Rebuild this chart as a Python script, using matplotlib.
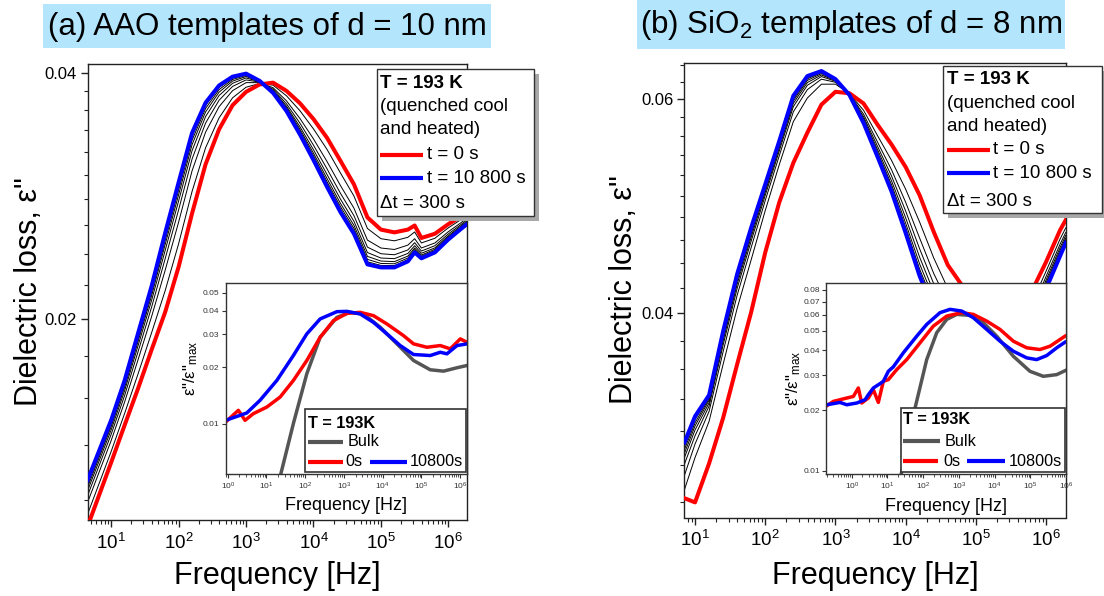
import matplotlib
matplotlib.use('Agg')
import numpy as np
import matplotlib.pyplot as plt
from matplotlib.patches import Rectangle
from matplotlib.lines import Line2D
from matplotlib.ticker import NullFormatter, LogLocator, NullLocator

plt.rcParams['font.family'] = ['Liberation Sans', 'DejaVu Sans']
plt.rcParams['mathtext.fontset'] = 'custom'
plt.rcParams['mathtext.rm'] = 'Liberation Sans'
plt.rcParams['mathtext.it'] = 'Liberation Sans:italic'
plt.rcParams['mathtext.bf'] = 'Liberation Sans:bold'
plt.rcParams['mathtext.default'] = 'regular'

# ---------------- data: panel (a) AAO ----------------
freq_a = [4.47, 10, 15.8, 25.1, 39.8, 63.1, 100, 158, 251, 398, 631, 1000, 1585, 2512,
          3981, 6310, 10000, 15849, 25119, 39811, 63096, 100000, 158490, 251190, 316230,
          398110, 630960, 1000000, 1584900, 1890000]
eps_a_0s = [0.01113, 0.01333, 0.01480, 0.01643, 0.01832, 0.02036, 0.02314, 0.02689, 0.0309,
            0.0341, 0.0365, 0.0379, 0.0387, 0.0389, 0.0380, 0.0367, 0.0351, 0.0333, 0.0312,
            0.0292, 0.0266, 0.0257, 0.0255, 0.0257, 0.0260, 0.0251, 0.0254, 0.0261, 0.0267, 0.0270]
eps_a_10800s = [0.01268, 0.01502, 0.01679, 0.01920, 0.02192, 0.02545, 0.02936, 0.03375, 0.03676,
                0.03859, 0.03956, 0.0399, 0.0391, 0.0378, 0.0359, 0.0336, 0.03127, 0.0290, 0.0270,
                0.0254, 0.0233, 0.0231, 0.0231, 0.0235, 0.0241, 0.0237, 0.0241, 0.0250, 0.0258, 0.0261]
eps_a_aging = [
    [0.01152, 0.01375, 0.01530, 0.01712, 0.01922, 0.02163, 0.02470, 0.02861, 0.03237, 0.03522,
     0.03727, 0.0384, 0.0388, 0.03863, 0.03748, 0.03593, 0.03414, 0.03223, 0.03015, 0.02825,
     0.02578, 0.02505, 0.0249, 0.02515, 0.02553, 0.02475, 0.02508, 0.02583, 0.02648, 0.02678],
    [0.01191, 0.01418, 0.01580, 0.01782, 0.02012, 0.02291, 0.02625, 0.03032, 0.03383, 0.03635,
     0.03803, 0.0389, 0.0389, 0.03835, 0.03695, 0.03515, 0.03319, 0.03115, 0.0291, 0.0273,
     0.02495, 0.0244, 0.0243, 0.0246, 0.02505, 0.0244, 0.02475, 0.02555, 0.02625, 0.02655],
    [0.01214, 0.01443, 0.01609, 0.01823, 0.02066, 0.02367, 0.02718, 0.03135, 0.03471, 0.03702,
     0.03849, 0.0392, 0.03896, 0.03819, 0.03664, 0.03469, 0.03261, 0.03051, 0.02847, 0.02673,
     0.02446, 0.02401, 0.02394, 0.02427, 0.02477, 0.02419, 0.02456, 0.02539, 0.02612, 0.02642],
    [0.01231, 0.01461, 0.01631, 0.01854, 0.02106, 0.02423, 0.02787, 0.03210, 0.03535, 0.03751,
     0.03883, 0.03942, 0.039, 0.03806, 0.0364, 0.03434, 0.03219, 0.03003, 0.02801, 0.02631,
     0.02409, 0.02372, 0.02368, 0.02403, 0.02456, 0.02404, 0.02441, 0.02526, 0.02602, 0.02632],
    [0.01243, 0.01475, 0.01647, 0.01876, 0.02134, 0.02464, 0.02836, 0.03265, 0.03582, 0.03787,
     0.03907, 0.03958, 0.03904, 0.03798, 0.03624, 0.0341, 0.03188, 0.02969, 0.02767, 0.02601,
     0.02383, 0.02352, 0.02348, 0.02385, 0.0244, 0.02392, 0.02431, 0.02518, 0.02594, 0.02624],
    [0.01253, 0.01485, 0.01659, 0.01892, 0.02156, 0.02494, 0.02874, 0.03306, 0.03617, 0.03814,
     0.03925, 0.0397, 0.03906, 0.03791, 0.03611, 0.03391, 0.03165, 0.02943, 0.02742, 0.02578,
     0.02363, 0.02336, 0.02334, 0.02372, 0.02429, 0.02384, 0.02423, 0.02511, 0.02589, 0.02619],
    [0.01260, 0.01494, 0.01669, 0.01906, 0.02174, 0.02520, 0.02905, 0.03341, 0.03647, 0.03837,
     0.03941, 0.0398, 0.03908, 0.03786, 0.03601, 0.03376, 0.03146, 0.02922, 0.02721, 0.02559,
     0.02347, 0.02323, 0.02322, 0.02361, 0.0242, 0.02377, 0.02417, 0.02506, 0.02585, 0.02615],
]

# ---------------- data: panel (b) SiO2 ----------------
freq_b = [7.08, 10, 15.85, 25.12, 39.81, 63.1, 100, 158.5, 251.2, 398.1, 631, 1000, 1585, 2512,
          3981, 6310, 10000, 15849, 25119, 39811, 63096, 100000, 158490, 251190, 398110, 630960,
          1000000, 1584900, 1905500]
eps_b_0s = [0.02819, 0.02797, 0.03011, 0.03282, 0.03633, 0.04011, 0.04490, 0.04937, 0.05320,
            0.05633, 0.05940, 0.06086, 0.06069, 0.05953, 0.05718, 0.05507, 0.05278, 0.05002,
            0.04668, 0.04384, 0.04220, 0.04103, 0.04056, 0.04041, 0.04064, 0.04175, 0.04410,
            0.04684, 0.04774]
eps_b_10800s = [0.03134, 0.03292, 0.03427, 0.03867, 0.04310, 0.04707, 0.05108, 0.05545, 0.06040,
                0.06270, 0.06330, 0.06234, 0.06049, 0.05737, 0.05380, 0.05037, 0.04658, 0.04292,
                0.04025, 0.03840, 0.03731, 0.03675, 0.03661, 0.03696, 0.03767, 0.03913, 0.04191,
                0.04460, 0.04572]
eps_b_aging = [
    [0.02866, 0.03045, 0.03261, 0.03633, 0.04039, 0.04429, 0.04861, 0.05302, 0.05752, 0.06015,
     0.06174, 0.06175, 0.06062, 0.05877, 0.05600, 0.05343, 0.05061, 0.04754, 0.04443, 0.04194,
     0.04049, 0.03953, 0.03918, 0.0392, 0.0396, 0.04083, 0.04333, 0.04606, 0.04703],
    [0.02945, 0.03124, 0.03323, 0.03721, 0.04141, 0.04533, 0.04954, 0.05393, 0.0586, 0.06111,
     0.06233, 0.06197, 0.06058, 0.05834, 0.05532, 0.05249, 0.04937, 0.04612, 0.04314, 0.04085,
     0.03951, 0.03868, 0.03839, 0.03851, 0.03901, 0.04031, 0.0429, 0.04561, 0.04663],
    [0.03008, 0.03173, 0.03356, 0.03768, 0.04195, 0.04589, 0.05003, 0.05442, 0.05918, 0.06162,
     0.06264, 0.06209, 0.06055, 0.05806, 0.05488, 0.05187, 0.04856, 0.04519, 0.04231, 0.04014,
     0.03887, 0.03812, 0.03787, 0.03806, 0.03862, 0.03997, 0.04261, 0.04532, 0.04637],
    [0.03046, 0.03208, 0.03377, 0.03797, 0.04229, 0.04623, 0.05034, 0.05472, 0.05954, 0.06194,
     0.06283, 0.06216, 0.06053, 0.05785, 0.05454, 0.05140, 0.04794, 0.04448, 0.04166, 0.03960,
     0.03839, 0.03769, 0.03748, 0.03772, 0.03832, 0.03971, 0.04239, 0.04509, 0.04616],
    [0.03071, 0.03233, 0.03394, 0.03820, 0.04256, 0.04651, 0.05059, 0.05496, 0.05982, 0.06219,
     0.06299, 0.06222, 0.06052, 0.05767, 0.05427, 0.05103, 0.04745, 0.04391, 0.04115, 0.03916,
     0.03799, 0.03735, 0.03716, 0.03744, 0.03809, 0.0395, 0.04222, 0.04491, 0.046],
    [0.03093, 0.03252, 0.03406, 0.03838, 0.04276, 0.04672, 0.05077, 0.05515, 0.06004, 0.06238,
     0.06311, 0.06227, 0.0605, 0.05754, 0.05407, 0.05075, 0.04708, 0.04349, 0.04076, 0.03884,
     0.0377, 0.03709, 0.03693, 0.03724, 0.03791, 0.03934, 0.04209, 0.04478, 0.04588],
    [0.03112, 0.03272, 0.03415, 0.03849, 0.0429, 0.04686, 0.05089, 0.05527, 0.06018, 0.06251,
     0.06318, 0.0623, 0.0605, 0.05746, 0.05394, 0.05056, 0.04683, 0.0432, 0.04051, 0.03862,
     0.03751, 0.03692, 0.03677, 0.0371, 0.03779, 0.03923, 0.042, 0.04469, 0.0458],
]

# ---------------- inset data (a) ----------------
ins_a_bulk_freq = [17.7, 22.5, 49.5, 110, 243, 656, 1440, 3180, 8690, 23300, 62500, 168700,
                   373000, 826000, 1500000]
ins_a_bulk = [0.00416, 0.0052, 0.0100, 0.01845, 0.02888, 0.0369, 0.03924, 0.03847, 0.03265,
              0.02664, 0.02171, 0.01937, 0.01905, 0.01986, 0.02042]
ins_a_0s_freq = [0.89, 1.88, 2.8, 4.6, 10.2, 22.5, 49.5, 110, 243, 536, 1188, 2622, 5785, 12840,
                 34400, 62500, 138700, 306000, 555000, 1007000, 1500000]
ins_a_0s = [0.0102, 0.01177, 0.01041, 0.0113, 0.01225, 0.01385, 0.01699, 0.02171, 0.02888,
            0.03544, 0.03876, 0.03924, 0.03768, 0.03403, 0.02949, 0.02664, 0.02555, 0.02609,
            0.02506, 0.02832, 0.02716]
ins_a_10800s_freq = [0.89, 3.1, 6.8, 18.5, 49.5, 110, 243, 656, 1188, 2622, 5785, 12840, 28330,
                     62500, 168700, 306000, 456000, 826000, 1500000]
ins_a_10800s = [0.01041, 0.01139, 0.0133, 0.01699, 0.02308, 0.03011, 0.03619, 0.03957, 0.03972,
                0.03847, 0.0347, 0.03011, 0.02609, 0.02337, 0.02308, 0.02403, 0.02357, 0.02609,
                0.02664]

# ---------------- inset data (b) ----------------
ins_b_bulk_freq = [19.7, 25.1, 59.3, 126, 240, 458, 873, 2060, 4860, 11530, 33650, 98600,
                   233000, 552000, 1000000]
ins_b_bulk = [0.0080, 0.00989, 0.02056, 0.03592, 0.04891, 0.05703, 0.06042, 0.05973, 0.05491,
              0.04703, 0.03733, 0.03139, 0.02963, 0.03021, 0.03175]
ins_b_0s_freq = [0.2, 0.305, 0.724, 1.11, 1.53, 1.9, 2.92, 4.03, 5.56, 7.68, 10.6, 18.2, 34.7,
                 81.9, 193, 458, 1206, 2547, 6050, 14270, 33650, 79800, 188000, 359000, 944000]
ins_b_0s = [0.02112, 0.0222, 0.02308, 0.02351, 0.02591, 0.02179, 0.02308, 0.02541, 0.02194,
            0.02797, 0.02852, 0.03201, 0.03592, 0.04357, 0.05279, 0.05925, 0.06164, 0.06042,
            0.05593, 0.05082, 0.04439, 0.04113, 0.04033, 0.0419, 0.04703]
ins_b_10800s_freq = [0.2, 0.47, 0.724, 1.38, 2.36, 2.92, 4.03, 6.2, 7.68, 10.6, 14.6, 27.9, 66.2,
                     126, 297, 567, 1206, 2547, 6050, 14270, 33650, 79800, 152000, 290000,
                     552000, 944000]
ins_b_10800s = [0.02136, 0.02194, 0.02136, 0.02179, 0.02263, 0.02398, 0.02591, 0.02723, 0.02797,
                0.03139, 0.03303, 0.03882, 0.04703, 0.05384, 0.06164, 0.06403, 0.06278, 0.05817,
                0.05082, 0.04439, 0.03955, 0.03664, 0.03592, 0.03763, 0.04113, 0.04388]

# tick values
main_a_yticks = [0.02, 0.04]
main_a_yminor = [0.012, 0.014, 0.016, 0.018, 0.022, 0.024, 0.026, 0.028, 0.030, 0.032, 0.034,
                 0.036, 0.038]
main_b_yticks = [0.04, 0.06]
main_b_yminor = [0.028, 0.030, 0.032, 0.034, 0.036, 0.038, 0.042, 0.044, 0.046, 0.048, 0.050,
                 0.052, 0.054, 0.056, 0.058, 0.062, 0.064]
ins_a_yticks = [0.01, 0.02, 0.03, 0.04, 0.05]
ins_b_yticks = [0.01, 0.02, 0.03, 0.04, 0.05, 0.06, 0.07, 0.08]

RED = '#ff0000'
BLUE = '#0000ff'
GRAY = '#555555'
W, H = 1104, 596

fig = plt.figure(figsize=(W / 100, H / 100), dpi=100)


def fbox(x0, y0, x1, y1):
    return [x0 / W, 1 - y1 / H, (x1 - x0) / W, (y1 - y0) / H]


def P(x, y):
    return x / W, 1 - y / H


ax_a = fig.add_axes(fbox(88, 64, 467, 520))
ax_b = fig.add_axes(fbox(684.3, 63, 1065.8, 517.5))
ins_a = fig.add_axes(fbox(225.7, 282.7, 467, 474.3))
ins_b = fig.add_axes(fbox(826, 282.7, 1066, 474))


def style_main(ax, xlim, ylim, major, minor):
    ax.set_xscale('log')
    ax.set_yscale('log')
    ax.set_xlim(*xlim)
    ax.set_ylim(*ylim)
    ax.set_xticks([10.0 ** k for k in range(1, 7)])
    ax.xaxis.set_minor_locator(LogLocator(base=10, subs=np.arange(2, 10) * 1.0, numticks=30))
    ax.xaxis.set_minor_formatter(NullFormatter())
    ax.set_yticks(major, labels=['%.2f' % v for v in major])
    ax.set_yticks(minor, minor=True)
    ax.yaxis.set_minor_formatter(NullFormatter())
    ax.tick_params(which='major', direction='out', length=5, width=1, pad=3,
                   colors='#222222', labelcolor='black')
    ax.tick_params(axis='x', which='major', labelsize=13.5, pad=4)
    ax.tick_params(axis='y', which='major', labelsize=12)
    ax.tick_params(which='minor', direction='out', length=3, width=0.8, colors='#222222')
    ax.tick_params(which='both', top=False, right=False)
    for s in ax.spines.values():
        s.set_linewidth(1.0)
        s.set_color('#222222')


def style_inset(ax, xlim, ylim, yt):
    ax.set_xscale('log')
    ax.set_yscale('log')
    ax.set_xlim(*xlim)
    ax.set_ylim(*ylim)
    ax.set_facecolor('white')
    ax.set_xticks([10.0 ** k for k in range(0, 7)])
    ax.xaxis.set_minor_locator(LogLocator(base=10, subs=np.arange(2, 10) * 1.0, numticks=30))
    ax.xaxis.set_minor_formatter(NullFormatter())
    ax.set_yticks(yt, labels=['%.2f' % v for v in yt])
    ax.yaxis.set_minor_locator(NullLocator())
    ax.tick_params(which='major', direction='out', length=3, width=0.8, labelsize=6, pad=1.5,
                   colors='#333333', labelcolor='#333333')
    ax.tick_params(which='minor', direction='out', length=1.8, width=0.6, colors='#333333')
    ax.tick_params(which='both', top=False, right=False)
    for s in ax.spines.values():
        s.set_linewidth(1.0)
        s.set_color('#333333')


style_main(ax_a, (4.53, 1.89e6), (0.01133, 0.0410), main_a_yticks, main_a_yminor)
style_main(ax_b, (7.03, 1.91e6), (0.02718, 0.06427), main_b_yticks, main_b_yminor)
style_inset(ins_a, (0.887, 1.5e6), (0.00536, 0.0565), ins_a_yticks)
style_inset(ins_b, (0.19, 1.007e6), (0.00963, 0.087), ins_b_yticks)

# main curves
for curve in eps_a_aging:
    ax_a.plot(freq_a, curve, color='black', lw=0.7, zorder=2)
ax_a.plot(freq_a, eps_a_0s, color=RED, lw=2.9, zorder=3)
ax_a.plot(freq_a, eps_a_10800s, color=BLUE, lw=2.9, zorder=4)

for curve in eps_b_aging:
    ax_b.plot(freq_b, curve, color='black', lw=0.7, zorder=2)
ax_b.plot(freq_b, eps_b_0s, color=RED, lw=2.9, zorder=3)
ax_b.plot(freq_b, eps_b_10800s, color=BLUE, lw=2.9, zorder=4)

# insets
ins_a.plot(ins_a_bulk_freq, ins_a_bulk, color=GRAY, lw=2.5)
ins_a.plot(ins_a_0s_freq, ins_a_0s, color=RED, lw=2.5)
ins_a.plot(ins_a_10800s_freq, ins_a_10800s, color=BLUE, lw=2.5)
ins_b.plot(ins_b_bulk_freq, ins_b_bulk, color=GRAY, lw=2.5)
ins_b.plot(ins_b_0s_freq, ins_b_0s, color=RED, lw=2.5)
ins_b.plot(ins_b_10800s_freq, ins_b_10800s, color=BLUE, lw=2.5)

# axis labels
fig.text(*P(277.5, 576), 'Frequency [Hz]', fontsize=22, ha='center', va='center')
fig.text(*P(875, 576), 'Frequency [Hz]', fontsize=22, ha='center', va='center')
fig.text(*P(29, 292), 'Dielectric loss, ε"', fontsize=22, ha='center', va='center', rotation=90)
fig.text(*P(624, 290), 'Dielectric loss, ε"', fontsize=22, ha='center', va='center', rotation=90)
fig.text(*P(346.3, 505), 'Frequency [Hz]', fontsize=13, ha='center', va='center')
fig.text(*P(946, 506.7), 'Frequency [Hz]', fontsize=13, ha='center', va='center')
fig.text(*P(191, 368), 'ε"/ε"$_{max}$', fontsize=12, ha='center', va='center', rotation=90)
fig.text(*P(794, 378), 'ε"/ε"$_{max}$', fontsize=12, ha='center', va='center', rotation=90)

# titles with light-blue background
TITLE_BG = '#b3e5fc'
fig.patches.append(Rectangle(P(43, 48), 448 / W, 44 / H, transform=fig.transFigure,
                             facecolor=TITLE_BG, edgecolor='none', zorder=1))
fig.patches.append(Rectangle(P(637, 49), 428 / W, 49 / H, transform=fig.transFigure,
                             facecolor=TITLE_BG, edgecolor='none', zorder=1))
fig.text(*P(267, 27), '(a) AAO templates of d = 10 nm', fontsize=22.5, ha='center', va='center')
fig.text(*P(851, 25), '(b) SiO$_2$ templates of d = 8 nm', fontsize=22.5, ha='center', va='center')


def box(x0, y0, x1, y1, shadow=0, lw=1.0):
    if shadow:
        fig.patches.append(Rectangle(P(x0 + shadow, y1 + shadow), (x1 - x0) / W, (y1 - y0) / H,
                                     transform=fig.transFigure, facecolor='#a8a8a8',
                                     edgecolor='none', zorder=1))
    fig.patches.append(Rectangle(P(x0, y1), (x1 - x0) / W, (y1 - y0) / H,
                                 transform=fig.transFigure, facecolor='white',
                                 edgecolor='#333333', lw=lw, zorder=1))


def key(x0, x1, y, color, lw=3):
    fig.add_artist(Line2D([x0 / W, x1 / W], [1 - y / H, 1 - y / H], transform=fig.transFigure,
                          color=color, lw=lw, solid_capstyle='butt', zorder=2))


def txt(x, y, s, size, bold=False):
    fig.text(*P(x, y), s, fontsize=size, ha='left', va='center',
             fontweight='bold' if bold else 'normal', zorder=3)


# main legend (a)
box(377.3, 69.3, 534, 216, shadow=5)
txt(380, 83.3, 'T = 193 K', 13.5, bold=True)
txt(380, 106.7, '(quenched cool', 13.5)
txt(380, 130, 'and heated)', 13.5)
key(380, 423, 155, RED)
txt(427, 155, 't = 0 s', 13.5)
key(380, 423, 178.3, BLUE)
txt(427, 178.3, 't = 10 800 s', 13.5)
txt(380, 203.3, 'Δt = 300 s', 13.5)

# main legend (b)
box(943.3, 66, 1101.7, 213.3, shadow=5)
txt(946.7, 80, 'T = 193 K', 13.5, bold=True)
txt(946.7, 103.3, '(quenched cool', 13.5)
txt(946.7, 126.7, 'and heated)', 13.5)
key(946.7, 990, 150, RED)
txt(993, 150, 't = 0 s', 13.5)
key(946.7, 990, 173.3, BLUE)
txt(993, 173.3, 't = 10 800 s', 13.5)
txt(946.7, 201.7, 'Δt = 300 s', 13.5)

# inset legend (a)
box(305, 409, 466, 471.7, lw=1.2)
txt(308.3, 423.3, 'T = 193K', 11.7, bold=True)
key(308.3, 343.3, 441.7, GRAY)
txt(347.7, 441.7, 'Bulk', 11.7)
key(308.3, 343.3, 461.7, RED)
txt(345.7, 461.7, '0s', 11.7)
key(370, 406.7, 461.7, BLUE)
txt(410, 461.7, '10800s', 11.7)

# inset legend (b)
box(900.7, 407.7, 1065, 472.3, lw=1.2)
txt(903.3, 420, 'T = 193K', 11.7, bold=True)
key(903.3, 940, 441, GRAY)
txt(945, 441, 'Bulk', 11.7)
key(903.3, 938.3, 461, RED)
txt(943.3, 461, '0s', 11.7)
key(966.7, 1005, 461, BLUE)
txt(1008.3, 461, '10800s', 11.7)

fig.savefig('out.png', dpi=100)
